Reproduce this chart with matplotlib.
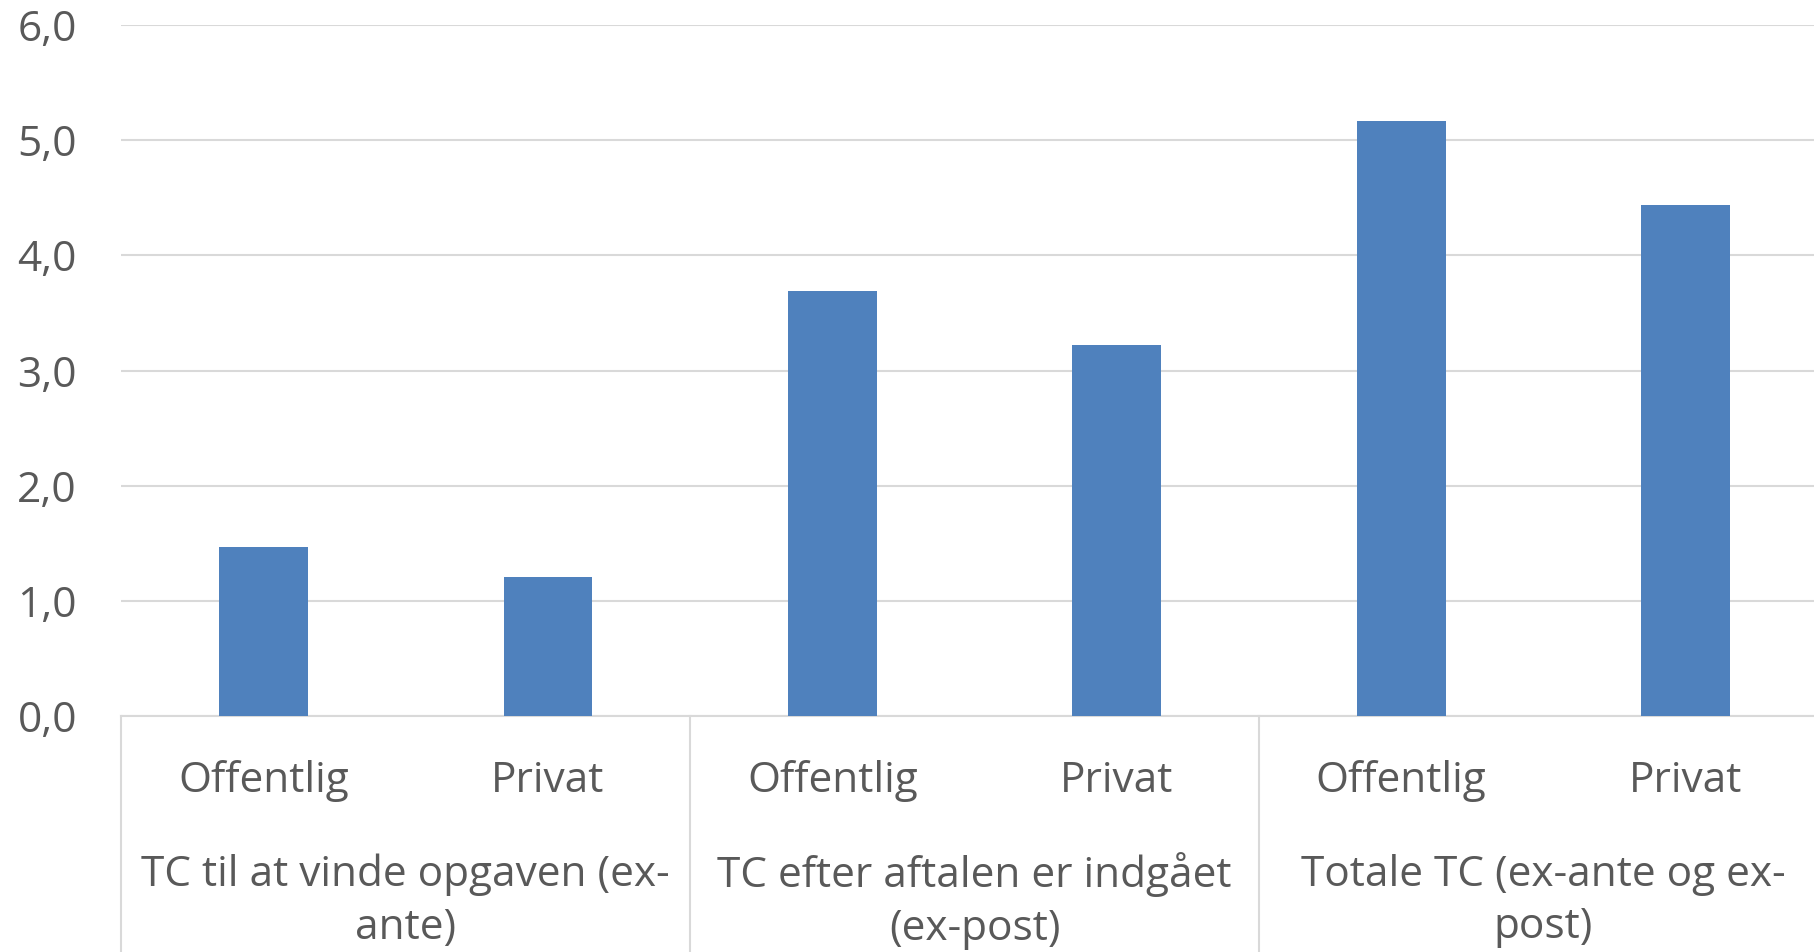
import matplotlib
matplotlib.use("Agg")
import matplotlib.pyplot as plt

plt.rcParams['font.family'] = ['Open Sans', 'DejaVu Sans']

groups = ["TC til at vinde opgaven (ex-\nante)",
          "TC efter aftalen er indgået\n(ex-post)",
          "Totale TC (ex-ante og ex-\npost)"]
sub_labels = ["Offentlig", "Privat"]
values = [1.47, 1.21, 3.69, 3.22, 5.17, 4.44]
yticks = [0, 1, 2, 3, 4, 5, 6]
ytick_labels = ["0,0", "1,0", "2,0", "3,0", "4,0", "5,0", "6,0"]

text_color = "#595959"
grid_color = "#d9d9d9"
bar_color = "#4F81BD"
fs = 30.5

fig = plt.figure(figsize=(18.15, 9.52), dpi=100)
ax = fig.add_axes([121.4/1815, 1-716/952, 1706.4/1815, 691/952])

x = list(range(len(values)))
ax.bar(x, values, width=0.312, color=bar_color, zorder=3)
ax.set_xlim(-0.5, len(values)-0.5)
ax.set_ylim(0, 6)
ax.set_yticks(yticks)
ax.set_yticklabels(ytick_labels)
ax.tick_params(axis='y', length=0, pad=32, labelsize=fs, labelcolor=text_color)
ax.set_xticks([])
ax.yaxis.grid(True, color=grid_color, linewidth=1.5, zorder=0)
for s in ["top", "right", "left"]:
    ax.spines[s].set_visible(False)
ax.spines["bottom"].set_color(grid_color)
ax.spines["bottom"].set_linewidth(1.5)

trans = ax.get_xaxis_transform()
for i, v in enumerate(values):
    ax.text(i, -0.094, sub_labels[i % 2], transform=trans, ha='center', va='center',
            fontsize=fs, color=text_color)
for g, name in enumerate(groups):
    ax.text(2*g + 0.5, -0.268, name, transform=trans, ha='center', va='center',
            fontsize=fs, color=text_color, linespacing=1.33)
for d in [-0.5, 1.5, 3.5, 5.5]:
    ax.plot([d, d], [0, -0.5], transform=trans, color=grid_color, linewidth=1.5, clip_on=False)

fig.savefig("out.png", dpi=100)
